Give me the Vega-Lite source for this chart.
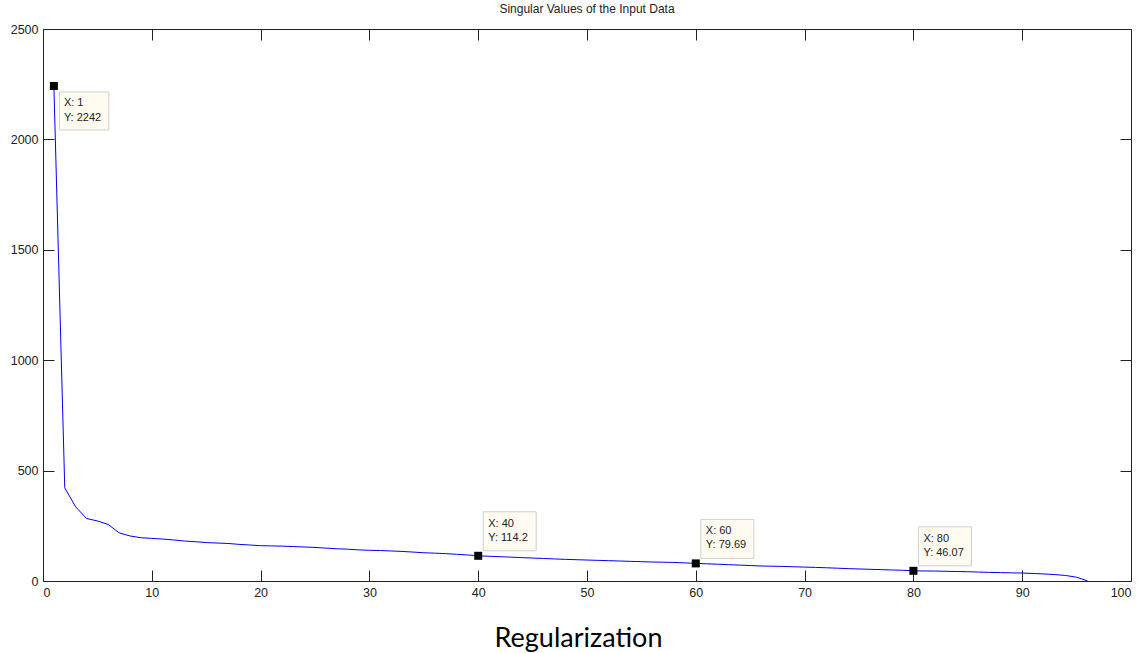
{
  "$schema": "https://vega.github.io/schema/vega-lite/v6.json",
  "width": 1088,
  "height": 552,
  "autosize": {"type": "none"},
  "padding": {"left": 43, "top": 29, "right": 11, "bottom": 72},
  "background": "white",
  "title": {"text": "Singular Values of the Input Data", "fontSize": 12, "font": "Liberation Sans", "fontWeight": "normal", "color": "#222222", "offset": 7},
  "config": {
    "view": {"stroke": null},
    "axis": {"grid": false, "labelFont": "Liberation Sans", "labelFontSize": 12.5, "labelColor": "#222222", "tickColor": "#222222", "domainColor": "#222222", "tickSize": -11, "labelPadding": 16}
  },
  "datasets": {
    "sv": [
      {"x": 1, "y": 2242}, {"x": 2, "y": 422}, {"x": 3, "y": 336}, {"x": 4, "y": 283}, {"x": 5, "y": 272},
      {"x": 6, "y": 256}, {"x": 7, "y": 218}, {"x": 8, "y": 204}, {"x": 9, "y": 196}, {"x": 10, "y": 193},
      {"x": 11, "y": 190}, {"x": 12, "y": 186}, {"x": 13, "y": 181}, {"x": 14, "y": 178}, {"x": 15, "y": 174},
      {"x": 16, "y": 172}, {"x": 17, "y": 170}, {"x": 18, "y": 166}, {"x": 19, "y": 163}, {"x": 20, "y": 160},
      {"x": 21, "y": 159}, {"x": 22, "y": 158}, {"x": 23, "y": 156}, {"x": 24, "y": 154}, {"x": 25, "y": 152},
      {"x": 26, "y": 149}, {"x": 27, "y": 146}, {"x": 28, "y": 144}, {"x": 29, "y": 141}, {"x": 30, "y": 139},
      {"x": 31, "y": 138}, {"x": 32, "y": 136}, {"x": 33, "y": 134}, {"x": 34, "y": 131}, {"x": 35, "y": 128},
      {"x": 36, "y": 126}, {"x": 37, "y": 124}, {"x": 38, "y": 121}, {"x": 39, "y": 118}, {"x": 40, "y": 114.2},
      {"x": 41, "y": 112}, {"x": 42, "y": 110}, {"x": 43, "y": 108}, {"x": 44, "y": 106}, {"x": 45, "y": 104},
      {"x": 46, "y": 102}, {"x": 47, "y": 100}, {"x": 48, "y": 98}, {"x": 49, "y": 96.5}, {"x": 50, "y": 95},
      {"x": 51, "y": 93.5}, {"x": 52, "y": 92}, {"x": 53, "y": 90.5}, {"x": 54, "y": 89}, {"x": 55, "y": 87.5},
      {"x": 56, "y": 86}, {"x": 57, "y": 85}, {"x": 58, "y": 84}, {"x": 59, "y": 82}, {"x": 60, "y": 79.69},
      {"x": 61, "y": 78}, {"x": 62, "y": 76}, {"x": 63, "y": 74}, {"x": 64, "y": 72}, {"x": 65, "y": 70},
      {"x": 66, "y": 68}, {"x": 67, "y": 67}, {"x": 68, "y": 66}, {"x": 69, "y": 64.5}, {"x": 70, "y": 63},
      {"x": 71, "y": 61.5}, {"x": 72, "y": 60}, {"x": 73, "y": 58}, {"x": 74, "y": 56}, {"x": 75, "y": 54.5},
      {"x": 76, "y": 53}, {"x": 77, "y": 51.5}, {"x": 78, "y": 50}, {"x": 79, "y": 48.5}, {"x": 80, "y": 46.07},
      {"x": 81, "y": 45.5}, {"x": 82, "y": 45}, {"x": 83, "y": 44}, {"x": 84, "y": 43}, {"x": 85, "y": 42},
      {"x": 86, "y": 40.5}, {"x": 87, "y": 39}, {"x": 88, "y": 38}, {"x": 89, "y": 37}, {"x": 90, "y": 36},
      {"x": 91, "y": 34}, {"x": 92, "y": 32}, {"x": 93, "y": 29}, {"x": 94, "y": 25}, {"x": 95, "y": 17},
      {"x": 96, "y": 1}
    ],
    "tips": [
      {"x": 1, "y": 2242, "tip": "X: 1\nY: 2242"},
      {"x": 40, "y": 114.2, "tip": "X: 40\nY: 114.2"},
      {"x": 60, "y": 79.69, "tip": "X: 60\nY: 79.69"},
      {"x": 80, "y": 46.07, "tip": "X: 80\nY: 46.07"}
    ]
  },
  "layer": [
    {
      "data": {"name": "sv"},
      "mark": {"type": "line", "color": "#0000ff", "strokeWidth": 1},
      "encoding": {
        "x": {"field": "x", "type": "quantitative", "scale": {"domain": [0, 100], "nice": false},
          "axis": {"orient": "bottom", "values": [0, 10, 20, 30, 40, 50, 60, 70, 80, 90, 100], "format": "d", "title": "Regularization",
            "titleFont": "Lato", "titleFontSize": 27, "titleFontWeight": "normal", "titleColor": "#000000",
            "titleX": 535, "titleY": 65, "titleAlign": "center", "titleBaseline": "alphabetic"}},
        "y": {"field": "y", "type": "quantitative", "scale": {"domain": [0, 2500], "nice": false},
          "axis": {"orient": "left", "values": [0, 500, 1000, 1500, 2000, 2500], "format": "d", "title": null}}
      }
    },
    {
      "data": {"name": "sv"},
      "mark": {"type": "line", "opacity": 0},
      "encoding": {
        "x": {"field": "x", "type": "quantitative", "axis": {"orient": "top", "labels": false, "title": null, "values": [0, 10, 20, 30, 40, 50, 60, 70, 80, 90, 100]}},
        "y": {"field": "y", "type": "quantitative", "axis": {"orient": "right", "labels": false, "title": null, "values": [0, 500, 1000, 1500, 2000, 2500]}}
      }
    },
    {
      "data": {"name": "tips"},
      "transform": [{"filter": "datum.x == 1"}],
      "mark": {"type": "point", "shape": "M5.5,6H55V44H5.5Z", "size": 4, "filled": true, "fill": "#fffbf0", "stroke": "#cfcfcf", "strokeWidth": 1, "opacity": 1},
      "encoding": {
        "x": {"field": "x", "type": "quantitative", "axis": null},
        "y": {"field": "y", "type": "quantitative", "axis": null}
      }
    },
    {
      "data": {"name": "tips"},
      "transform": [{"filter": "datum.x != 1"}],
      "mark": {"type": "point", "shape": "M5,-44H58V-5H5Z", "size": 4, "filled": true, "fill": "#fffbf0", "stroke": "#cfcfcf", "strokeWidth": 1, "opacity": 1},
      "encoding": {
        "x": {"field": "x", "type": "quantitative", "axis": null},
        "y": {"field": "y", "type": "quantitative", "axis": null}
      }
    },
    {
      "data": {"name": "tips"},
      "mark": {"type": "square", "size": 64, "color": "#000000", "opacity": 1, "filled": true},
      "encoding": {
        "x": {"field": "x", "type": "quantitative", "axis": null},
        "y": {"field": "y", "type": "quantitative", "axis": null}
      }
    },
    {
      "data": {"name": "tips"},
      "transform": [{"filter": "datum.x == 1"}],
      "mark": {"type": "text", "align": "left", "baseline": "middle", "dx": 10, "dy": 17.5, "lineBreak": "\n", "lineHeight": 15, "fontSize": 11, "font": "Liberation Sans", "color": "#222222"},
      "encoding": {
        "x": {"field": "x", "type": "quantitative", "axis": null},
        "y": {"field": "y", "type": "quantitative", "axis": null},
        "text": {"field": "tip"}
      }
    },
    {
      "data": {"name": "tips"},
      "transform": [{"filter": "datum.x != 1"}],
      "mark": {"type": "text", "align": "left", "baseline": "middle", "dx": 10, "dy": -32, "lineBreak": "\n", "lineHeight": 14, "fontSize": 11, "font": "Liberation Sans", "color": "#222222"},
      "encoding": {
        "x": {"field": "x", "type": "quantitative", "axis": null},
        "y": {"field": "y", "type": "quantitative", "axis": null},
        "text": {"field": "tip"}
      }
    }
  ],
  "resolve": {"axis": {"x": "independent", "y": "independent"}}
}
